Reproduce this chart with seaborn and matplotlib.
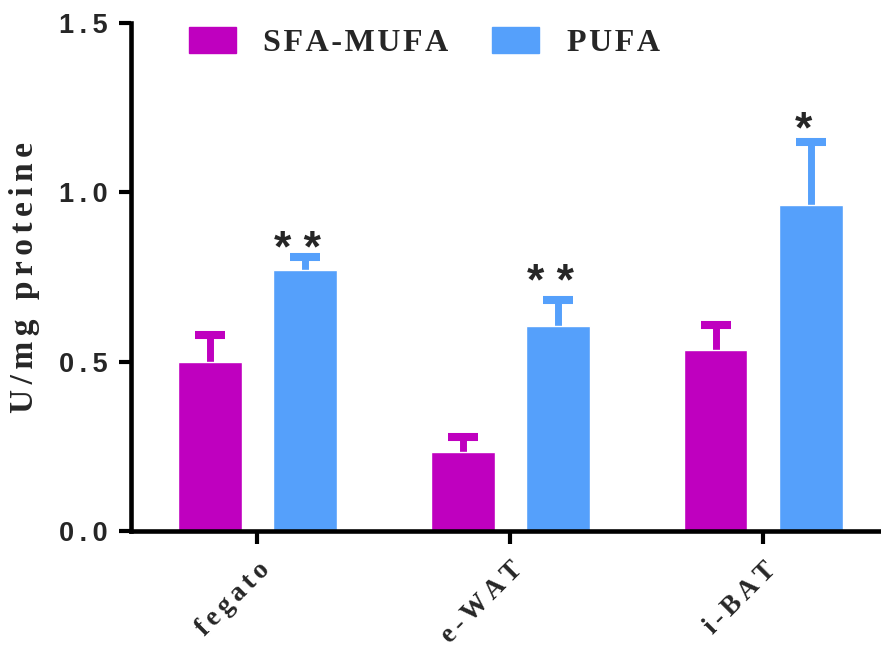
import matplotlib
matplotlib.use("Agg")
import matplotlib.pyplot as plt
import seaborn as sns
import pandas as pd
import numpy as np

# Enzyme activity per tissue, two fatty-acid groups
tissues = ["fegato", "e-WAT", "i-BAT"]
groups = ["SFA-MUFA", "PUFA"]
sfa_mufa = [0.500, 0.234, 0.535]
pufa = [0.772, 0.604, 0.964]
sfa_mufa_err = [0.078, 0.043, 0.072]
pufa_err = [0.036, 0.077, 0.185]
stars = ["**", "**", "*"]
star_y = [0.856, 0.757, 1.208]
yticks = [0.0, 0.5, 1.0, 1.5]
colors = ["#BF00BF", "#55A0FB"]

SERIF = ["Liberation Serif", "DejaVu Serif"]
SANS = ["Liberation Sans", "DejaVu Sans"]

THIN = "\u2009"
SIXTH = "\u2006"
HAIR = "\u200a"


def spaced(s, sep=THIN):
    return sep.join(s)


sns.set_style("ticks")
plt.rcParams["font.family"] = SANS

df = pd.DataFrame({
    "tissue": tissues * 2,
    "gruppo": [groups[0]] * 3 + [groups[1]] * 3,
    "value": sfa_mufa + pufa,
})
errs = {groups[0]: sfa_mufa_err, groups[1]: pufa_err}

fig = plt.figure(figsize=(8.81, 6.52), dpi=100)
ax = fig.add_axes([0.149, 0.1856, 0.850, 0.7791])

sns.barplot(data=df, x="tissue", y="value", hue="gruppo", order=tissues,
            hue_order=groups, palette=colors, width=0.752, gap=0.327,
            errorbar=None, saturation=1, ax=ax, zorder=2)

# upward error bars, drawn behind the bars
for cont, g, c in zip(ax.containers, groups, colors):
    xs = [b.get_x() + b.get_width() / 2 for b in cont]
    ys = [b.get_height() for b in cont]
    ax.errorbar(xs, ys, yerr=errs[g], fmt="none", ecolor=c, elinewidth=5,
                capsize=11, capthick=5.8, zorder=1)

# significance marks over the PUFA bars
for b, s, y in zip(ax.containers[1], stars, star_y):
    ax.annotate(spaced(s, " "), (b.get_x() + b.get_width() / 2, y),
                xytext=(-5, -15), textcoords="offset points", ha="center",
                va="baseline", fontsize=32, fontweight="bold", family=SANS)

ax.set_ylim(0, 1.5)
ax.set_xlim(-0.4985, 2.463)
ax.set_yticks(yticks, [spaced(f"{v:.1f}") for v in yticks])
ax.set_xticks(range(len(tissues)), [spaced(t, SIXTH) for t in tissues])
for lab in ax.get_yticklabels():
    lab.set_fontsize(19.5)
    lab.set_fontweight("bold")
    lab.set_family(SANS)
for lab in ax.get_xticklabels():
    lab.set_fontsize(19.5)
    lab.set_fontweight("bold")
    lab.set_family(SERIF)
    lab.set_rotation(45)
    lab.set_ha("right")
    lab.set_va("top")
    lab.set_rotation_mode("anchor")

ax.tick_params(axis="both", width=3, length=9, color="black")
ax.tick_params(axis="y", pad=8)
ax.tick_params(axis="x", pad=10)
sns.despine(ax=ax)
for sp in ("left", "bottom"):
    ax.spines[sp].set_linewidth(3.3)
    ax.spines[sp].set_color("black")

ax.set_xlabel("")
ax.set_ylabel(spaced("U/mg proteine", SIXTH), fontsize=24, fontweight="bold",
              family=SERIF, labelpad=14)

ax.legend_.remove()
handles = [plt.Rectangle((0, 0), 1, 1, color=c) for c in colors]
leg = fig.legend(handles, [spaced(g, HAIR) for g in groups], ncol=2,
                 frameon=False, loc="center left",
                 bbox_to_anchor=(173 / 881, 1 - 42.5 / 652),
                 borderpad=0, handlelength=1.47, handleheight=0.85,
                 handletextpad=0.85, columnspacing=1.38,
                 prop={"family": SERIF, "weight": "bold", "size": 23})

fig.savefig("out.png", dpi=100)
